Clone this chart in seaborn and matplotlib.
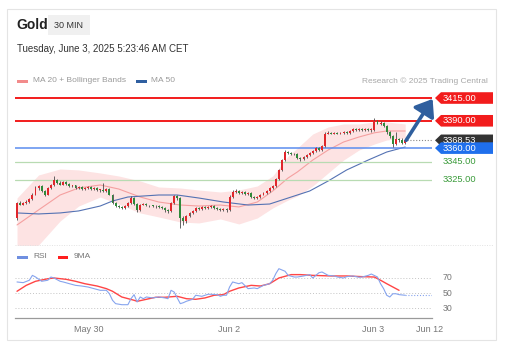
import matplotlib
matplotlib.use("Agg")
import matplotlib.pyplot as plt
import numpy as np
import pandas as pd
import seaborn as sns
from matplotlib import transforms
from matplotlib.patches import Polygon, Rectangle
from matplotlib.lines import Line2D

# ---------------- data ----------------
first_open = 3283.0
close = [
    3300, 3298, 3300, 3301, 3304, 3309, 3316, 3318, 3313, 3309,
    3316, 3319, 3325, 3322, 3320, 3323, 3321, 3318, 3319, 3316,
    3317, 3315, 3316, 3317, 3315, 3316, 3314, 3314, 3313, 3315,
    3309, 3300, 3296, 3295, 3294, 3296, 3300, 3305, 3299, 3292,
    3298, 3299, 3297, 3297, 3296, 3296, 3295, 3294, 3292, 3291,
    3300, 3307, 3305, 3283, 3280, 3285, 3289, 3291, 3294, 3293,
    3295, 3294, 3295, 3296, 3294, 3293, 3292, 3293, 3292, 3306,
    3312, 3313, 3311, 3312, 3310, 3311, 3306, 3305, 3306, 3309,
    3311, 3313, 3316, 3318, 3326, 3336, 3347, 3356, 3355, 3353,
    3354, 3349, 3348, 3350, 3352, 3355, 3357, 3360, 3358, 3362,
    3376, 3377, 3376, 3377, 3376, 3377, 3378, 3377, 3379, 3381,
    3380, 3381, 3380, 3381, 3380, 3380, 3390, 3387, 3388, 3384,
    3378, 3373, 3364, 3370, 3369, 3366, 3368.53,
]
high = [
    3301, 3302, 3301, 3303, 3305, 3311, 3318, 3320, 3319, 3314,
    3317, 3321, 3329, 3326, 3324, 3324, 3324, 3322, 3320, 3320,
    3318, 3318, 3317, 3318, 3318, 3317, 3317, 3315, 3322, 3316,
    3316, 3310, 3301, 3297, 3296, 3297, 3301, 3307, 3306, 3300,
    3299, 3300, 3300, 3298, 3298, 3297, 3297, 3296, 3295, 3293,
    3301, 3308, 3308, 3306, 3285, 3286, 3290, 3292, 3295, 3295,
    3296, 3296, 3296, 3297, 3297, 3295, 3294, 3294, 3294, 3308,
    3314, 3315, 3314, 3313, 3313, 3312, 3312, 3307, 3307, 3310,
    3312, 3314, 3317, 3319, 3327, 3337, 3348, 3358, 3357, 3356,
    3355, 3355, 3350, 3351, 3353, 3356, 3358, 3361, 3361, 3363,
    3378, 3379, 3378, 3378, 3378, 3378, 3379, 3379, 3380, 3382,
    3382, 3382, 3382, 3382, 3382, 3382, 3393, 3391, 3390, 3389,
    3385, 3379, 3374, 3378, 3371, 3371, 3370,
]
low = [
    3281, 3297, 3297, 3299, 3300, 3303, 3308, 3314, 3312, 3307,
    3308, 3315, 3318, 3321, 3319, 3319, 3320, 3317, 3317, 3315,
    3315, 3314, 3314, 3315, 3314, 3314, 3313, 3312, 3312, 3312,
    3308, 3299, 3295, 3294, 3293, 3293, 3295, 3299, 3298, 3290,
    3291, 3297, 3296, 3295, 3295, 3294, 3294, 3293, 3290, 3289,
    3290, 3299, 3303, 3272, 3276, 3278, 3284, 3288, 3290, 3292,
    3292, 3293, 3293, 3294, 3293, 3292, 3291, 3291, 3290, 3291,
    3305, 3311, 3310, 3310, 3309, 3309, 3305, 3304, 3304, 3305,
    3308, 3310, 3312, 3315, 3317, 3325, 3335, 3346, 3353, 3352,
    3352, 3348, 3346, 3347, 3349, 3351, 3354, 3356, 3357, 3357,
    3361, 3375, 3375, 3375, 3375, 3375, 3376, 3376, 3376, 3378,
    3379, 3379, 3379, 3379, 3379, 3378, 3379, 3386, 3385, 3383,
    3376, 3371, 3361, 3363, 3367, 3365, 3365,
]

# Bollinger (20) and moving averages, sampled along the candle index
band_idx = [0, 7, 14, 20, 27, 33, 40, 46, 53, 59, 66, 72, 78, 83, 88, 91,
            96, 101, 106, 111, 116, 120, 126]
ma20 = [3275.6, 3292.1, 3308.5, 3316.2, 3319.5, 3315.1, 3306.3, 3300.8,
        3297.5, 3296.4, 3297.5, 3295.4, 3300.8, 3312.9, 3327.2, 3333.8,
        3346.9, 3357.9, 3366.7, 3372.2, 3376.8, 3378.8, 3378.8]
bb_upper = [3305.2, 3330.5, 3337.1, 3336.0, 3332.7, 3329.4, 3323.9, 3317.3,
            3316.2, 3314.0, 3311.8, 3314.0, 3318.4, 3329.4, 3351.3, 3360.1,
            3375.5, 3383.2, 3386.5, 3386.5, 3388.7, 3388.7, 3386.5]
bb_lower = [3246.0, 3253.6, 3280.0, 3296.4, 3306.3, 3298.6, 3288.8, 3284.4,
            3278.9, 3277.8, 3282.2, 3276.7, 3283.3, 3294.3, 3303.0, 3307.4,
            3318.4, 3332.7, 3346.9, 3357.9, 3364.5, 3368.9, 3371.1]
ma50_idx = [0, 7, 14, 20, 27, 31, 36, 46, 52, 59, 67, 75, 82, 88, 95, 101,
            107, 114, 120, 126]
ma50 = [3288.8, 3287.7, 3288.8, 3291.0, 3296.4, 3301.9, 3306.3, 3308.5,
        3308.5, 3305.2, 3300.8, 3297.5, 3298.6, 3305.2, 3312.9, 3323.9,
        3336.0, 3346.9, 3355.7, 3361.2]

# key levels
resistances = [3415.0, 3390.0]
support_main = 3360.0
supports = [3345.0, 3325.0]
target = 3415.0

# RSI (14) and its 9-period average
rsi_idx = [0, 2, 4, 5, 6, 8, 10, 11, 12, 14, 15, 17, 19, 21, 23, 25, 27, 29,
           30, 31, 32, 34, 36, 37, 38, 39, 40, 41, 42, 44, 46, 48, 49, 50, 51,
           53, 54, 55, 57, 58, 60, 62, 63, 65, 66, 67, 68, 69, 70, 72, 73, 75,
           77, 78, 80, 82, 83, 84, 85, 87, 88, 90, 91, 93, 95, 96, 98, 99, 101,
           103, 104, 106, 107, 109, 111, 112, 114, 115, 117, 118, 119, 120,
           121, 122, 123, 124, 126]
rsi_val = [64.7, 63.8, 67.0, 73.5, 71.4, 65.6, 67.0, 71.3, 70.0, 65.6, 64.7,
           62.4, 60.2, 59.3, 58.0, 55.8, 53.6, 53.6, 49.0, 40.3, 35.8, 34.4,
           34.4, 42.4, 47.8, 38.0, 44.7, 42.4, 44.7, 43.4, 44.7, 43.4, 42.4,
           53.6, 51.3, 35.8, 37.1, 39.0, 41.6, 47.0, 45.6, 48.3, 48.3, 47.8,
           45.6, 47.0, 47.0, 58.0, 64.7, 62.4, 63.8, 55.8, 56.7, 55.8, 60.2,
           62.4, 67.0, 75.8, 82.4, 79.0, 73.5, 71.3, 71.3, 72.7, 74.5, 70.0,
           77.0, 78.0, 73.5, 72.7, 71.3, 70.0, 71.8, 72.7, 71.0, 71.3, 73.5,
           75.3, 71.3, 62.4, 55.8, 47.0, 44.7, 49.0, 49.0, 47.8, 47.0]
ma9_idx = [0, 3, 6, 10, 12, 16, 19, 22, 26, 29, 31, 34, 38, 39, 42, 45, 48,
           52, 55, 58, 61, 64, 67, 69, 72, 76, 79, 82, 85, 89, 92, 96, 102,
           107, 112, 116, 118, 120, 122, 124]
ma9_val = [52.3, 60.2, 65.6, 69.0, 70.0, 68.2, 65.6, 62.4, 59.3, 55.8, 52.3,
           44.7, 40.3, 38.9, 41.6, 44.3, 44.3, 45.6, 42.4, 41.6, 43.4, 47.0,
           47.8, 52.3, 56.7, 60.2, 59.3, 62.4, 70.0, 74.5, 74.5, 73.5, 72.7,
           72.7, 71.8, 71.3, 67.0, 62.4, 58.0, 53.6]
rsi_levels = [70, 50, 30]

tick_pos = [23.4, 68.8, 115.6, 133.8]
tick_labels = ["May 30", "Jun 2", "Jun 3", "Jun 12"]

# ---------------- layout helpers ----------------
sns.set_theme(style="white")
plt.rcParams["font.family"] = ["Liberation Sans", "DejaVu Sans"]

W, H = 511, 349
fig = plt.figure(figsize=(W / 100, H / 100), dpi=100)
fig.patch.set_facecolor("white")


def rect(x0, y0, x1, y1):
    return [x0 / W, 1 - y1 / H, (x1 - x0) / W, (y1 - y0) / H]


def ftext(x, y, s, **kw):
    fig.text(x / W, 1 - y / H, s, **kw)


def fbox(x0, y0, x1, y1, **kw):
    fig.patches.append(Rectangle((x0 / W, 1 - y1 / H), (x1 - x0) / W, (y1 - y0) / H,
                                 transform=fig.transFigure, **kw))


AX_L, AX_R = 15, 432
XMIN, XMAX = -0.65, 134.7


def fx(px):
    return (px - AX_L) / (AX_R - AX_L)


# card frame and separators
fbox(7, 9, 496, 340, fill=False, edgecolor="#e4e4e4", linewidth=0.8)
fig.lines.append(Line2D([15 / W, 493 / W], [1 - 245 / H] * 2, transform=fig.transFigure,
                        color="#e2e2e2", lw=0.7, ls=(0, (1, 1.5))))

# header
ftext(16, 25, "Gold", fontsize=10, fontweight="bold", color="#222222", va="center")
fbox(48, 15, 90, 35, facecolor="#f0f0f0", edgecolor="none")
ftext(69, 25, "30 MIN", fontsize=6.5, color="#333333", va="center", ha="center")
ftext(17, 49, "Tuesday, June 3, 2025 5:23:46 AM CET", fontsize=7, color="#333333", va="center")

# legends
fbox(17, 79.5, 28, 82.5, facecolor="#f28b8b", edgecolor="none")
ftext(33, 81, "MA 20 + Bollinger Bands", fontsize=6, color="#9a9a9a", va="center")
fbox(136, 79.5, 147, 82.5, facecolor="#2f5fa0", edgecolor="none")
ftext(151, 81, "MA 50", fontsize=6, color="#9a9a9a", va="center")
ftext(488, 81, "Research \u00a9 2025 Trading Central", fontsize=6, color="#a8a8a8",
      va="center", ha="right")
fbox(17, 255.5, 28, 258.5, facecolor="#6f8fe0", edgecolor="none")
ftext(33, 257, "RSI", fontsize=6, color="#777777", va="center")
fbox(58, 255.5, 68, 258.5, facecolor="#ff1f1f", edgecolor="none")
ftext(74, 257, "9MA", fontsize=6, color="#777777", va="center")

# ---------------- price panel ----------------
ax = fig.add_axes(rect(AX_L, 88, AX_R, 245))
ax.set_axis_off()
ax.set_xlim(XMIN, XMAX)
ax.set_ylim(3253.6, 3426.0)

candles = pd.DataFrame({"close": close, "high": high, "low": low})
candles["open"] = candles["close"].shift(1).fillna(first_open)
candles["idx"] = np.arange(len(candles))
up = candles["close"] >= candles["open"]

bands = pd.DataFrame({"idx": band_idx, "ma20": ma20, "upper": bb_upper, "lower": bb_lower})
ax.fill_between(bands["idx"], bands["lower"], bands["upper"], color="#fde3e3", lw=0, zorder=1)
sns.lineplot(data=bands, x="idx", y="ma20", ax=ax, color="#f5a0a0", lw=0.8, zorder=2)
sns.lineplot(x=ma50_idx, y=ma50, ax=ax, color="#5472b3", lw=0.8, zorder=2)

ax.vlines(candles["idx"], candles["low"], candles["high"], color="#4a4a4a", lw=0.6, zorder=3)
body_lo = np.minimum(candles["open"], candles["close"])
body_h = np.maximum((candles["close"] - candles["open"]).abs(), 0.6)
ax.bar(candles["idx"], body_h, bottom=body_lo, width=0.62,
       color=np.where(up, "#e0262b", "#2f8a3a"), linewidth=0, zorder=4)

for lvl in resistances:
    ax.axhline(lvl, color="#f21c1c", lw=1.4, zorder=2)
ax.axhline(support_main, color="#5b8def", lw=1.1, zorder=2)
for lvl in supports:
    ax.axhline(lvl, color="#b8dbb2", lw=0.9, zorder=2)

last = candles["close"].iloc[-1]
last_i = candles["idx"].iloc[-1]
ax.plot([last_i + 0.5, XMAX], [last, last], ls=(0, (1, 1.6)), color="#888888", lw=0.8, zorder=2)

# projected move toward the target
ax.annotate("", xy=(XMAX + 0.2, target - 1.0), xytext=(last_i + 0.3, last),
            arrowprops=dict(arrowstyle="-|>,head_length=0.6,head_width=0.45",
                            color="#2f5f9e", lw=2.6, shrinkA=0, shrinkB=0,
                            mutation_scale=16),
            annotation_clip=False, zorder=7)

trans = transforms.blended_transform_factory(ax.transAxes, ax.transData)
dy = (3426.0 - 3253.6) / 157.0


def tag(value, face, txt_color="white"):
    h = 5.8 * dy
    xs = [fx(435), fx(441), fx(493), fx(493), fx(441)]
    ys = [value, value + h, value + h, value - h, value - h]
    ax.add_patch(Polygon(list(zip(xs, ys)), closed=True, transform=trans,
                         facecolor=face, edgecolor="none", clip_on=False, zorder=8))
    ax.text(fx(443), value, f"{value:.2f}", transform=trans, color=txt_color,
            fontsize=6.7, va="center", ha="left", clip_on=False, zorder=9)


for lvl in resistances:
    tag(lvl, "#f21c1c")
tag(last, "#333333")
tag(support_main, "#1f6fec")
for lvl in supports:
    ax.text(fx(443), lvl, f"{lvl:.2f}", transform=trans, color="#3b9b3b",
            fontsize=6.7, va="center", ha="left", clip_on=False)

# ---------------- RSI panel ----------------
rax = fig.add_axes(rect(AX_L, 265, AX_R, 318))
rax.set_facecolor("none")
rax.set_xlim(XMIN, XMAX)
rax.set_ylim(16.67, 87.33)
for lvl in rsi_levels:
    rax.axhline(lvl, color="#c4c4c4", lw=0.7, ls=(0, (1, 2)), zorder=1)
sns.lineplot(x=rsi_idx, y=rsi_val, ax=rax, color="#86a4ee", lw=0.8, zorder=3)
sns.lineplot(x=ma9_idx, y=ma9_val, ax=rax, color="#ff4545", lw=1.0, zorder=2)
rax.plot([rsi_idx[-1], XMAX], [rsi_val[-1]] * 2, color="#86a4ee", lw=0.8,
         ls=(0, (1, 1.6)), zorder=2)

rtrans = transforms.blended_transform_factory(rax.transAxes, rax.transData)
for lvl in rsi_levels:
    rax.text(fx(443), lvl, str(lvl), transform=rtrans, fontsize=6.3, color="#777777",
             va="center", ha="left", clip_on=False)

for side in ["top", "right", "left"]:
    rax.spines[side].set_visible(False)
rax.spines["bottom"].set_color("#9a9a9a")
rax.spines["bottom"].set_linewidth(0.9)
rax.set_yticks([])
rax.set_xticks(tick_pos)
rax.set_xticklabels(tick_labels)
rax.set_xticks([XMIN, XMAX], minor=True)
rax.tick_params(axis="x", which="major", length=0, pad=5, labelsize=6.5, labelcolor="#777777")
rax.tick_params(axis="x", which="minor", direction="in", length=4, width=0.9, color="#9a9a9a")
rax.set_xlabel("")
rax.set_ylabel("")

fig.savefig("out.png", dpi=100)
